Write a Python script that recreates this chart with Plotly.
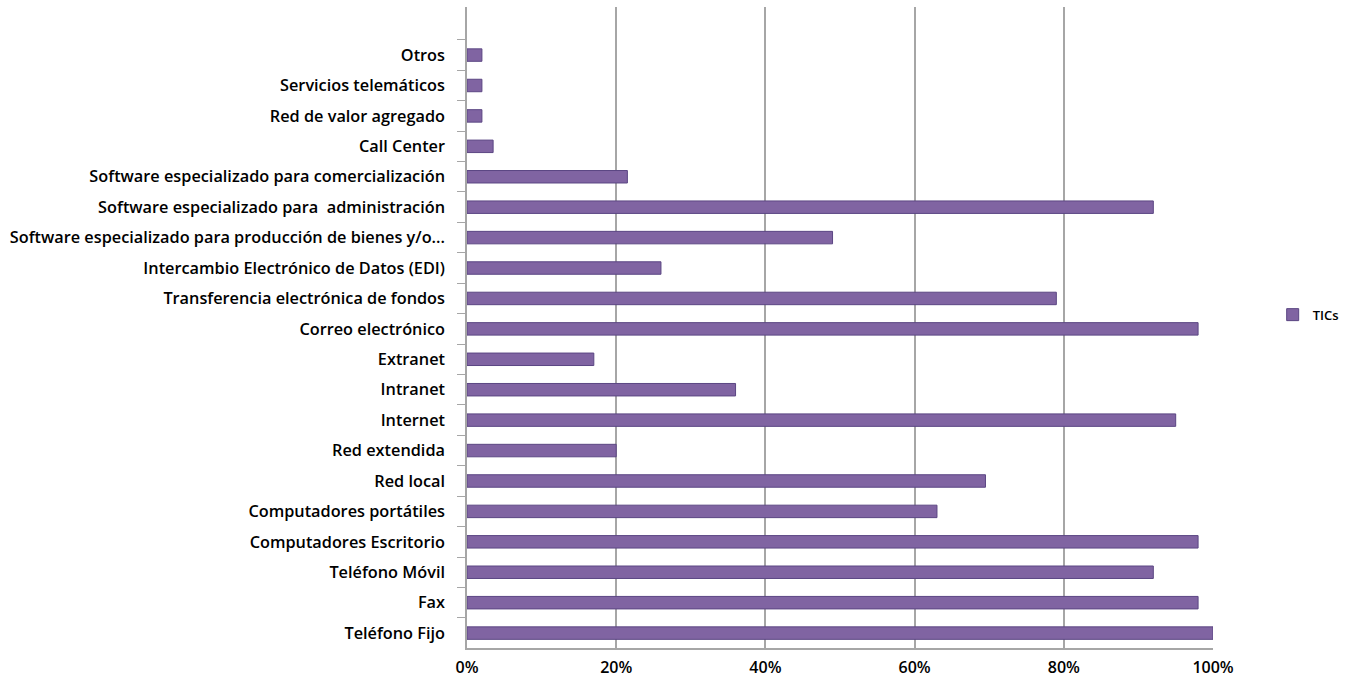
import plotly.graph_objects as go

categories = [
    "Teléfono Fijo", "Fax", "Teléfono Móvil", "Computadores Escritorio",
    "Computadores portátiles", "Red local", "Red extendida", "Internet",
    "Intranet", "Extranet", "Correo electrónico",
    "Transferencia electrónica de fondos",
    "Intercambio Electrónico de Datos (EDI)",
    "Software especializado para producción de bienes y/o...",
    "Software especializado para  administración",
    "Software especializado para comercialización",
    "Call Center", "Red de valor agregado", "Servicios telemáticos", "Otros",
]
values = [100, 98, 92, 98, 63, 69.5, 20, 95, 36, 17, 98, 79, 26, 49, 92, 21.5, 3.5, 2, 2, 2]
series_name = "TICs"
x_ticks = [0, 20, 40, 60, 80, 100]
x_tick_labels = ["0%", "20%", "40%", "60%", "80%", "100%"]

fig = go.Figure()
fig.add_trace(go.Bar(
    y=categories, x=values, orientation="h", name=series_name,
    marker=dict(color="#8064A2", line=dict(color="#5B4683", width=1)),
    showlegend=True,
))

font_family = "Open Sans, Lato, DejaVu Sans, sans-serif"
fig.update_layout(
    width=1351, height=681,
    margin=dict(l=467, r=138, t=7, b=33, autoexpand=False),
    paper_bgcolor="white", plot_bgcolor="white",
    bargap=0.59,
    font=dict(family=font_family, size=15, color="#000000"),
    xaxis=dict(
        range=[0, 100], tickvals=x_ticks, ticktext=x_tick_labels,
        showgrid=True, gridcolor="#A6A6A6", gridwidth=1.5,
        zeroline=False, showline=True, linecolor="#A6A6A6", linewidth=1.5,
        ticks="", automargin=False, ticklabelstandoff=4,
        tickfont=dict(size=16, family=font_family, color="#000000", weight=600),
        fixedrange=True,
    ),
    yaxis=dict(
        type="category", categoryorder="array", categoryarray=categories,
        range=[-0.49, 20.58], automargin=False,
        showline=True, linecolor="#A6A6A6", linewidth=1.5,
        ticks="outside", ticklen=8, tickcolor="#A6A6A6", tickson="boundaries",
        showgrid=False,
        tickfont=dict(size=16.3, family=font_family, color="#000000", weight=600),
        ticklabelstandoff=17,
    ),
    legend=dict(
        x=1.08, y=0.52, xanchor="left", yanchor="middle",
        font=dict(size=13, family=font_family, color="#000000", weight=600),
        bgcolor="rgba(0,0,0,0)",
    ),
)

fig.write_html("out.html", post_script="document.body.style.margin='0';",
               config={"displayModeBar": False})
